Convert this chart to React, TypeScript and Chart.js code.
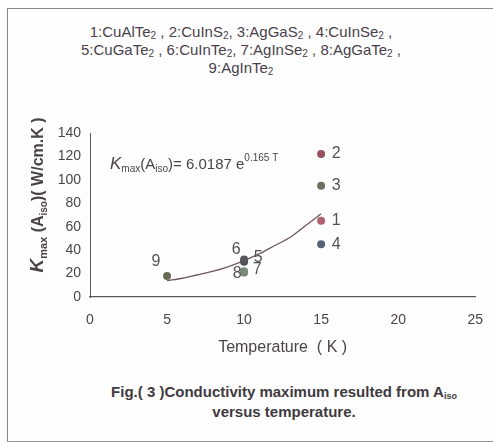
import React, { useEffect, useRef } from "react";
import { Chart, registerables } from "chart.js";

Chart.register(...registerables);

// ---- data ----
const compoundIds = ["1", "2", "3", "4", "5", "6", "7", "8", "9"];
const compoundNames = ["CuAlTe2", "CuInS2", "AgGaS2", "CuInSe2", "CuGaTe2", "CuInTe2", "AgInSe2", "AgGaTe2", "AgInTe2"];
const temperatureK = [15, 15, 15, 15, 10, 10, 10, 10, 5];
const kmaxValues = [65, 122, 95, 45, 30, 32, 21, 22, 18];
// exponential trend line as drawn in the figure
const fitTemperature = [5, 6, 7, 8, 9, 10, 11, 12, 13, 14, 15];
const fitKmax = [14, 16, 19, 22, 26, 31, 37, 44, 51, 61, 71];
const xTickValues = [0, 5, 10, 15, 20, 25];
const yTickValues = [0, 20, 40, 60, 80, 100, 120, 140];

// ---- styles ----
const pointColors = ["#b0606e", "#9a5060", "#6b7262", "#566274", "#4e4e52", "#56565a", "#6c8062", "#788a78", "#6a6a56"];
const labelOffsets: [number, number][] = [
  [15, 0], [15, 0], [15, 0], [15, 0], [14, -4], [-8, -10], [13, -3], [-7, 2], [-11, -14],
];
const FONT = "'Liberation Sans', Arial, sans-serif";
const TEXT = "#4a4448";

const labelPlugin = {
  id: "pointLabels",
  afterDatasetsDraw(chart: any) {
    const ctx = chart.ctx;
    const meta = chart.getDatasetMeta(0);
    ctx.save();
    ctx.font = `16px ${FONT}`;
    ctx.fillStyle = "#555055";
    ctx.textAlign = "center";
    ctx.textBaseline = "middle";
    meta.data.forEach((el: any, i: number) => {
      const [dx, dy] = labelOffsets[i];
      ctx.fillText(compoundIds[i], el.x + dx, el.y + dy);
    });
    ctx.restore();
  },
};

type Seg = [string, string, number];
function drawSegs(ctx: CanvasRenderingContext2D, segs: Seg[], x: number, y: number, center: boolean) {
  let total = 0;
  segs.forEach(([t, f]) => {
    ctx.font = f;
    total += ctx.measureText(t).width;
  });
  let cx = center ? x - total / 2 : x;
  segs.forEach(([t, f, dy]) => {
    ctx.font = f;
    ctx.fillText(t, cx, y + dy);
    cx += ctx.measureText(t).width;
  });
}

const textPlugin = {
  id: "extraText",
  afterDraw(chart: any) {
    const ctx = chart.ctx;
    const area = chart.chartArea;
    ctx.save();
    ctx.fillStyle = TEXT;
    ctx.textBaseline = "alphabetic";
    ctx.textAlign = "left";
    // y-axis title, rotated
    ctx.save();
    ctx.translate(area.left - 53, (area.top + area.bottom) / 2 - 20);
    ctx.rotate(-Math.PI / 2);
    drawSegs(
      ctx,
      [
        ["K", `italic bold 19px ${FONT}`, 0],
        ["max", `bold 11px ${FONT}`, 4],
        [" (A", `bold 16px ${FONT}`, 0],
        ["iso", `bold 10px ${FONT}`, 4],
        [")( W/cm.K )", `bold 16px ${FONT}`, 0],
      ],
      0,
      6,
      true
    );
    ctx.restore();
    // equation annotation
    drawSegs(
      ctx,
      [
        ["K", `italic 17px ${FONT}`, 0],
        ["max", `10px ${FONT}`, 3],
        ["(A", `15px ${FONT}`, 0],
        ["iso", `10px ${FONT}`, 3],
        [")= 6.0187 e", `15px ${FONT}`, 0],
        ["0.165 T", `10px ${FONT}`, -8],
      ],
      area.left + 20,
      area.top + 36,
      false
    );
    ctx.restore();
  },
};

export default function App() {
  const ref = useRef<HTMLCanvasElement>(null);
  useEffect(() => {
    if (!ref.current) return;
    const chart = new Chart(ref.current, {
      type: "scatter",
      data: {
        datasets: [
          {
            label: "Kmax",
            data: temperatureK.map((t, i) => ({ x: t, y: kmaxValues[i] })),
            pointRadius: 4,
            pointBackgroundColor: pointColors,
            pointBorderColor: pointColors,
            pointBorderWidth: 0,
            showLine: false,
          },
          {
            type: "line",
            label: "fit",
            data: fitTemperature.map((t, i) => ({ x: t, y: fitKmax[i] })),
            borderColor: "#6e5858",
            borderWidth: 1.3,
            pointRadius: 0,
            fill: false,
            tension: 0.3,
          } as any,
        ],
      },
      options: {
        responsive: false,
        animation: false,
        layout: { padding: { left: 0, top: 133, right: 15, bottom: 0 } },
        plugins: {
          legend: { display: false },
          tooltip: { enabled: false },
          title: { display: false },
        },
        scales: {
          x: {
            type: "linear",
            min: 0,
            max: 25,
            afterBuildTicks: (s: any) => {
              s.ticks = xTickValues.map((v) => ({ value: v }));
            },
            afterFit: (s: any) => {
              s.height = 68;
            },
            grid: { display: false, drawTicks: true, tickLength: 5, color: "#555" },
            border: { display: true, color: "#5a5560", width: 1.3 },
            ticks: { color: TEXT, font: { family: FONT, size: 14 }, padding: 10 },
            title: {
              display: true,
              text: "Temperature  ( K )",
              color: TEXT,
              font: { family: FONT, size: 16 },
              padding: { top: 0, bottom: 8 },
            },
          },
          y: {
            type: "linear",
            min: 0,
            max: 140,
            afterBuildTicks: (s: any) => {
              s.ticks = yTickValues.map((v) => ({ value: v }));
            },
            afterFit: (s: any) => {
              s.width = 90;
            },
            grid: { display: false, drawTicks: true, tickLength: 5, color: "#555" },
            border: { display: true, color: "#5a5560", width: 1 },
            ticks: { color: TEXT, font: { family: FONT, size: 14 }, padding: 4 },
          },
        },
      },
      plugins: [labelPlugin, textPlugin],
    } as any);
    return () => chart.destroy();
  }, []);

  const sub = (t: string, size = 10) => (
    <sub style={{ fontSize: `${size}px`, verticalAlign: "-2px", lineHeight: 0 }}>{t}</sub>
  );
  const name = (i: number) => {
    const n = compoundNames[i];
    return (
      <span>
        {compoundIds[i]}:{n.slice(0, -1)}
        {sub(n.slice(-1))}
      </span>
    );
  };

  return (
    <div style={{ position: "absolute", left: 0, top: 0, width: 493, height: 443, background: "#fefefe", overflow: "hidden", fontFamily: FONT }}>
      <div
        style={{
          position: "absolute",
          left: 7,
          top: 8,
          width: 500,
          height: 432,
          borderLeft: "1px solid #8a8490",
          borderTop: "1px solid #8a8490",
          borderBottom: "1px solid #9a9498",
        }}
      />
      <div style={{ position: "absolute", left: 0, top: 23, width: 482, textAlign: "center", fontSize: 15, lineHeight: "18px", color: "#4a3f4a" }}>
        <div style={{ height: 18 }}>
          {name(0)} , {name(1)}, {name(2)} , {name(3)} ,
        </div>
        <div style={{ height: 18 }}>
          {name(4)} , {name(5)}, {name(6)} , {name(7)} ,
        </div>
        <div style={{ height: 18 }}>{name(8)}</div>
      </div>
      <canvas ref={ref} width={493} height={365} style={{ position: "absolute", left: 0, top: 0 }} />
      <div style={{ position: "absolute", left: 84, top: 382, width: 400, textAlign: "center", fontSize: 15, lineHeight: "20px", fontWeight: "bold", color: "#3e3a3e" }}>
        <div style={{ height: 20 }}>
          Fig.( 3 )Conductivity maximum resulted from A{sub("iso", 9)}
        </div>
        <div style={{ height: 20 }}>versus temperature.</div>
      </div>
    </div>
  );
}
